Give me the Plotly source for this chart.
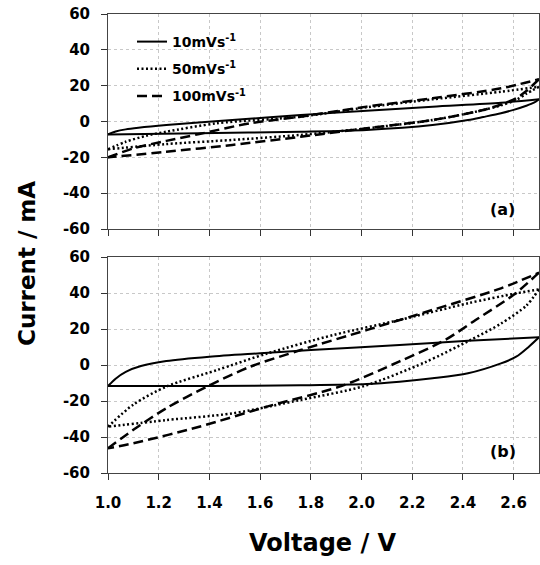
import plotly.graph_objects as go

# ---------------- data ----------------
series_names = ["10mVs<sup>-1</sup>", "50mVs<sup>-1</sup>", "100mVs<sup>-1</sup>"]

# Panel (a)
a10_fwd_v = [1.0, 1.03, 1.07, 1.12, 1.23, 1.49, 1.76, 2.02, 2.28, 2.55, 2.7]
a10_fwd_i = [-7.2, -5.6, -4.4, -3.5, -2.0, 0.8, 3.6, 6.0, 8.3, 10.5, 12.4]
a10_rev_v = [2.7, 2.68, 2.65, 2.60, 2.55, 2.48, 2.42, 2.28, 2.02, 1.76, 1.36, 1.0]
a10_rev_i = [12.4, 10.5, 8.8, 6.5, 4.6, 2.5, 0.8, -2.0, -4.7, -5.7, -6.6, -7.2]

a50_fwd_v = [1.0, 1.07, 1.15, 1.23, 1.43, 1.76, 2.02, 2.28, 2.55, 2.7]
a50_fwd_i = [-15.5, -11.3, -8.0, -5.7, -1.0, 2.7, 7.9, 12.4, 16.6, 19.4]
a50_rev_v = [2.7, 2.65, 2.61, 2.55, 2.48, 2.28, 2.02, 1.76, 1.49, 1.23, 1.0]
a50_rev_i = [19.4, 15.5, 12.0, 9.0, 6.4, 0.8, -3.8, -7.5, -10.3, -12.6, -15.5]

a100_fwd_v = [1.0, 1.10, 1.23, 1.36, 1.56, 1.76, 2.02, 2.28, 2.55, 2.7]
a100_fwd_i = [-20.0, -15.0, -10.8, -7.0, -1.0, 2.7, 8.3, 13.0, 18.5, 23.6]
a100_rev_v = [2.7, 2.65, 2.61, 2.55, 2.48, 2.28, 2.02, 1.76, 1.49, 1.23, 1.0]
a100_rev_i = [23.6, 17.0, 13.0, 9.5, 6.4, 0.8, -3.8, -8.5, -13.1, -16.9, -20.0]

# Panel (b)
b10_fwd_v = [1.0, 1.03, 1.07, 1.13, 1.23, 1.40, 1.60, 1.80, 2.15, 2.42, 2.7]
b10_fwd_i = [-11.7, -7.6, -3.8, -0.6, 2.2, 4.6, 6.5, 8.3, 11.1, 13.5, 15.4]
b10_rev_v = [2.7, 2.66, 2.61, 2.55, 2.42, 2.28, 2.15, 2.02, 1.76, 1.40, 1.0]
b10_rev_i = [15.4, 10.2, 4.6, 0.9, -4.6, -7.4, -9.3, -10.6, -11.3, -11.7, -11.7]

b50_fwd_v = [1.0, 1.10, 1.23, 1.43, 1.63, 1.89, 2.15, 2.42, 2.61, 2.7]
b50_fwd_i = [-34.3, -22.0, -12.0, -2.8, 6.5, 16.7, 25.0, 34.3, 39.8, 42.0]
b50_rev_v = [2.7, 2.65, 2.55, 2.43, 2.25, 2.01, 1.76, 1.49, 1.23, 1.0]
b50_rev_i = [42.0, 33.0, 23.0, 13.9, 1.5, -11.7, -19.4, -26.9, -30.6, -34.3]

b100_fwd_v = [1.0, 1.10, 1.23, 1.39, 1.56, 1.76, 2.02, 2.28, 2.55, 2.7]
b100_fwd_i = [-46.3, -36.0, -24.0, -12.0, -1.0, 8.3, 19.4, 30.6, 42.6, 51.3]
b100_rev_v = [2.7, 2.60, 2.45, 2.33, 2.15, 1.92, 1.63, 1.36, 1.10, 1.0]
b100_rev_i = [51.3, 39.0, 25.0, 13.9, 2.0, -11.7, -23.0, -34.3, -43.5, -46.3]

x_tickvals = [1.0, 1.2, 1.4, 1.6, 1.8, 2.0, 2.2, 2.4, 2.6]
x_ticktext = ["1.0", "1.2", "1.4", "1.6", "1.8", "2.0", "2.2", "2.4", "2.6"]
y_tickvals = [-60, -40, -20, 0, 20, 40, 60]
y_ticktext = ["-60", "-40", "-20", "0", "20", "40", "60"]

# ---------------- figure ----------------
styles = [
    dict(color="black", width=2, dash="solid"),
    dict(color="black", width=2.5, dash="2px,2.5px"),
    dict(color="black", width=2.5, dash="10px,5px"),
]

panel_a = [(a10_fwd_v, a10_fwd_i, a10_rev_v, a10_rev_i),
           (a50_fwd_v, a50_fwd_i, a50_rev_v, a50_rev_i),
           (a100_fwd_v, a100_fwd_i, a100_rev_v, a100_rev_i)]
panel_b = [(b10_fwd_v, b10_fwd_i, b10_rev_v, b10_rev_i),
           (b50_fwd_v, b50_fwd_i, b50_rev_v, b50_rev_i),
           (b100_fwd_v, b100_fwd_i, b100_rev_v, b100_rev_i)]

fig = go.Figure()

for k, (fv, fi, rv, ri) in enumerate(panel_a):
    for j, (vv, ii) in enumerate([(fv, fi), (rv, ri)]):
        fig.add_trace(go.Scatter(
            x=vv, y=ii, mode="lines", xaxis="x2", yaxis="y2",
            line=dict(**styles[k], shape="spline", smoothing=0.8),
            name=series_names[k], legendgroup=f"s{k}",
            showlegend=(j == 0), hoverinfo="skip"))

for k, (fv, fi, rv, ri) in enumerate(panel_b):
    for j, (vv, ii) in enumerate([(fv, fi), (rv, ri)]):
        fig.add_trace(go.Scatter(
            x=vv, y=ii, mode="lines", xaxis="x", yaxis="y",
            line=dict(**styles[k], shape="spline", smoothing=0.8),
            name=series_names[k], legendgroup=f"s{k}",
            showlegend=False, hoverinfo="skip"))

tickfont = dict(family="DejaVu Sans", size=15, color="black", weight="bold")

xcommon = dict(range=[1.0, 2.7], tickvals=x_tickvals, ticktext=x_ticktext,
               ticks="outside", ticklen=6, tickwidth=1, tickcolor="#333",
               showline=True, linecolor="#444", linewidth=1, mirror=True,
               showgrid=True, gridcolor="#c8c8c8", griddash="dot", gridwidth=1,
               zeroline=False, tickfont=tickfont, ticklabelstandoff=10)
ycommon = dict(range=[-60, 60], tickvals=y_tickvals, ticktext=y_ticktext,
               ticks="outside", ticklen=6, tickwidth=1, tickcolor="#333",
               showline=True, linecolor="#444", linewidth=1, mirror=True,
               showgrid=True, gridcolor="#c8c8c8", griddash="dot", gridwidth=1,
               zeroline=False, tickfont=tickfont, ticklabelstandoff=8)

H_PLOT = 459.0
fig.update_layout(
    width=540, height=565,
    margin=dict(l=108, r=1, t=14, b=92),
    paper_bgcolor="white", plot_bgcolor="white",
    font=dict(family="DejaVu Sans", color="black"),
    xaxis=dict(**xcommon, anchor="y", domain=[0, 1]),
    yaxis=dict(**ycommon, anchor="x", domain=[0, 216 / H_PLOT]),
    xaxis2=dict(**xcommon, anchor="y2", domain=[0, 1], showticklabels=False),
    yaxis2=dict(**ycommon, anchor="x2", domain=[244 / H_PLOT, 1]),
    showlegend=True,
    legend=dict(x=(132 - 108) / 431, y=(473 - 26) / H_PLOT, xanchor="left", yanchor="top",
                bgcolor="rgba(0,0,0,0)", borderwidth=0,
                font=dict(family="DejaVu Sans", size=14, weight="bold"),
                tracegroupgap=6),
    annotations=[
        dict(text="Current / mA", textangle=-90, xref="paper", yref="paper",
             x=(27 - 108) / 431, y=(473 - 264) / H_PLOT, xanchor="center",
             yanchor="middle", showarrow=False,
             font=dict(family="DejaVu Sans", size=23, weight="bold")),
        dict(text="Voltage / V", xref="paper", yref="paper",
             x=(323 - 108) / 431, y=(473 - 543) / H_PLOT, xanchor="center",
             yanchor="middle", showarrow=False,
             font=dict(family="DejaVu Sans", size=24, weight="bold")),
        dict(text="(a)", xref="paper", yref="paper",
             x=(502 - 108) / 431, y=(473 - 209) / H_PLOT, xanchor="center",
             yanchor="middle", showarrow=False,
             font=dict(family="DejaVu Sans", size=16, weight="bold")),
        dict(text="(b)", xref="paper", yref="paper",
             x=(503 - 108) / 431, y=(473 - 451) / H_PLOT, xanchor="center",
             yanchor="middle", showarrow=False,
             font=dict(family="DejaVu Sans", size=16, weight="bold")),
    ],
)

fig.write_html("out.html")
